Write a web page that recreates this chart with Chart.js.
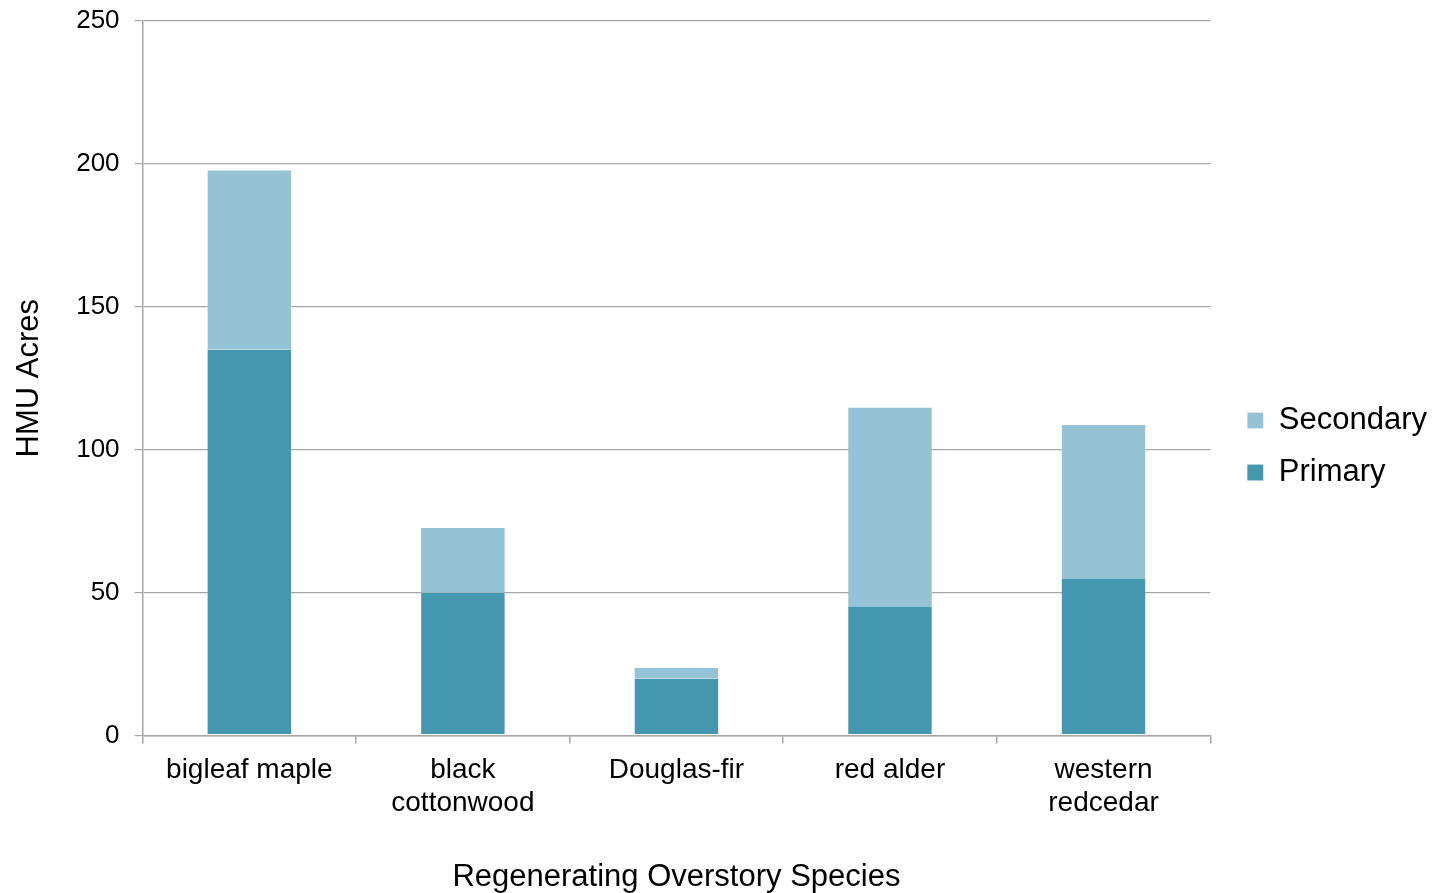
<!DOCTYPE html>
<html>
<head>
<meta charset="utf-8">
<script src="https://cdn.jsdelivr.net/npm/chart.js@4.4.1/dist/chart.umd.min.js"></script>
<style>
  html, body { margin: 0; padding: 0; background: #ffffff; }
  #wrap { width: 1433px; height: 893px; position: relative; }
</style>
</head>
<body>
<div id="wrap"><canvas id="chart" width="1433" height="893"></canvas></div>
<script>
// Regenerating overstory species, HMU acres split by primary/secondary
const species = [
  'bigleaf maple',
  ['black', 'cottonwood'],
  'Douglas-fir',
  'red alder',
  ['western', 'redcedar']
];
const primaryAcres = [135, 50, 20, 45, 55];
const secondaryAcres = [63, 23, 4, 70, 54];
const yTicks = [0, 50, 100, 150, 200, 250];

const FONT = "'Liberation Sans', Arial, sans-serif";
const GRID = '#a6a6a6';

// nudge the legend block a little further from the plot area
const legendNudge = {
  id: 'legendNudge',
  afterLayout(chart) {
    const lg = chart.legend;
    if (!lg) return;
    lg.left += 16; lg.right += 16;
  }
};

new Chart(document.getElementById('chart'), {
  type: 'bar',
  data: {
    labels: species,
    datasets: [
      {
        label: 'Primary',
        data: primaryAcres,
        backgroundColor: '#4397af',
        borderColor: 'rgba(255,255,255,0.12)',
        borderWidth: 1,
        borderSkipped: 'end',
        categoryPercentage: 0.8,
        barPercentage: 0.5
      },
      {
        label: 'Secondary',
        data: secondaryAcres,
        backgroundColor: '#93c3d4',
        borderColor: 'rgba(255,255,255,0.22)',
        borderWidth: 1,
        borderSkipped: 'start',
        categoryPercentage: 0.8,
        barPercentage: 0.5
      }
    ]
  },
  options: {
    responsive: false,
    animation: false,
    devicePixelRatio: 1,
    layout: { padding: { left: 11, right: 12, top: 0, bottom: 0 } },
    plugins: {
      tooltip: { enabled: false },
      legend: {
        position: 'right',
        reverse: true,
        labels: {
          font: { family: FONT, size: 31 },
          color: '#000000',
          boxWidth: 16,
          boxHeight: 16,
          padding: 21,
          useBorderRadius: false
        }
      }
    },
    scales: {
      x: {
        stacked: true,
        offset: true,
        border: { color: GRID, width: 1.5 },
        grid: {
          offset: true,
          drawOnChartArea: false,
          drawTicks: true,
          tickLength: 8,
          color: GRID,
          lineWidth: 1.5
        },
        ticks: {
          font: { family: FONT, size: 28, lineHeight: 1.15 },
          color: '#000000',
          padding: 11,
          maxRotation: 0,
          autoSkip: false
        },
        title: {
          display: true,
          text: 'Regenerating Overstory Species',
          font: { family: FONT, size: 31, lineHeight: 1.0 },
          color: '#000000',
          padding: { top: 32, bottom: 0 }
        }
      },
      y: {
        stacked: true,
        min: 0,
        max: 250,
        border: { color: GRID, width: 1.5 },
        grid: {
          color: GRID,
          lineWidth: 1.2,
          drawTicks: true,
          tickLength: 8
        },
        afterBuildTicks: (axis) => { axis.ticks = yTicks.map(v => ({ value: v })); },
        ticks: {
          font: { family: FONT, size: 26, lineHeight: 0.45 },
          color: '#000000',
          padding: 15
        },
        title: {
          display: true,
          text: 'HMU Acres',
          font: { family: FONT, size: 31 },
          color: '#000000',
          padding: { top: 0, bottom: 13 }
        }
      }
    }
  },
  plugins: [legendNudge]
});
</script>
</body>
</html>
